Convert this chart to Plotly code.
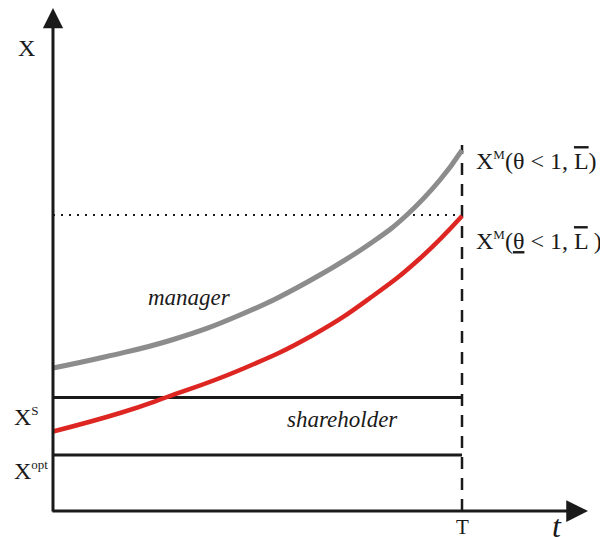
import plotly.graph_objects as go

# time grid (T = 10) and the two paths
t_manager = [0, 1.31, 2.94, 4.57, 6.20, 7.83, 8.65, 9.46, 10]
x_manager = [2.86, 3.09, 3.43, 3.92, 4.57, 5.39, 5.92, 6.62, 7.22]

t_red = [0, 1.64, 2.79, 4.57, 6.36, 7.82, 8.97, 10]
x_red = [1.59, 1.96, 2.28, 2.82, 3.52, 4.30, 5.05, 5.90]

T_END = 10
X_S = 2.27
X_OPT = 1.12
X_DOTTED = 5.92
T_LINE_TOP = 7.32
Y_ARROW_TIP = 10.06
T_ARROW_TIP = 13.08

SERIF = "Liberation Serif, Times New Roman, serif"
INK = "#1a1a1a"

fig = go.Figure()

# shareholder levels
for level in [X_S, X_OPT]:
    fig.add_trace(go.Scatter(x=[0, T_END], y=[level, level], mode="lines",
                             line=dict(color=INK, width=3), hoverinfo="skip"))

# dotted reference level and dashed T line
fig.add_trace(go.Scatter(x=[0, T_END], y=[X_DOTTED, X_DOTTED], mode="lines",
                         line=dict(color=INK, width=2, dash="2px,6px"), hoverinfo="skip"))
fig.add_trace(go.Scatter(x=[T_END, T_END], y=[0, T_LINE_TOP], mode="lines",
                         line=dict(color=INK, width=2.5, dash="12px,9px"), hoverinfo="skip"))

fig.add_trace(go.Scatter(x=t_red, y=x_red, mode="lines", line_shape="spline",
                         line=dict(color="#dd2622", width=4.5, smoothing=1.3), hoverinfo="skip"))
fig.add_trace(go.Scatter(x=t_manager, y=x_manager, mode="lines", line_shape="spline",
                         line=dict(color="#8c8c8c", width=5, smoothing=1.3), hoverinfo="skip"))

# axes with arrow heads
fig.add_annotation(x=0, y=Y_ARROW_TIP, ax=0, ay=-0.04, xref="x", yref="y", axref="x", ayref="y",
                   text="", showarrow=True, arrowhead=2, arrowsize=1.35, arrowwidth=3,
                   arrowcolor=INK)
fig.add_annotation(x=T_ARROW_TIP, y=0, ax=-0.05, ay=0, xref="x", yref="y", axref="x", ayref="y",
                   text="", showarrow=True, arrowhead=2, arrowsize=1.45, arrowwidth=3,
                   arrowcolor=INK)

SUP = '<sup><span style="font-size:13px">{}</span></sup>'
OVER = '<span style="text-decoration:overline">L</span>'
UNDER = '<span style="text-decoration:underline">θ</span>'

labels = [
    (-0.64, 9.26, "X", "center", "middle", 24),
    (-1.0, 1.90, "X" + SUP.format("S"), "left", "middle", 24),
    (-1.0, 0.82, "X" + SUP.format("opt"), "left", "middle", 24),
    (10.29, 7.02, "X" + SUP.format("M") + "(θ < 1, " + OVER + ")", "left", "middle", 24),
    (10.29, 5.42, "X" + SUP.format("M") + "(" + UNDER + " < 1, " + OVER + " )", "left", "middle", 24),
    (3.33, 4.28, "<i>manager</i>", "center", "middle", 23),
    (7.09, 1.84, "<i>shareholder</i>", "center", "middle", 23),
    (T_END, -0.03, "T", "center", "top", 21),
    (12.32, 0.11, "<i>t</i>", "center", "top", 32),
]
for x, y, text, xa, ya, size in labels:
    fig.add_annotation(x=x, y=y, xref="x", yref="y", text=text, showarrow=False,
                       xanchor=xa, yanchor=ya, font=dict(family=SERIF, size=size, color=INK))

# the page body adds an 8px offset, so the ranges are shifted to compensate
fig.update_layout(
    width=608, height=537,
    margin=dict(l=0, r=0, t=0, b=0),
    paper_bgcolor="white", plot_bgcolor="white",
    showlegend=False,
    xaxis=dict(range=[-1.100, 13.765], visible=False, fixedrange=True),
    yaxis=dict(range=[-0.68, 10.06], visible=False, fixedrange=True),
)

fig.write_html("out.html")
